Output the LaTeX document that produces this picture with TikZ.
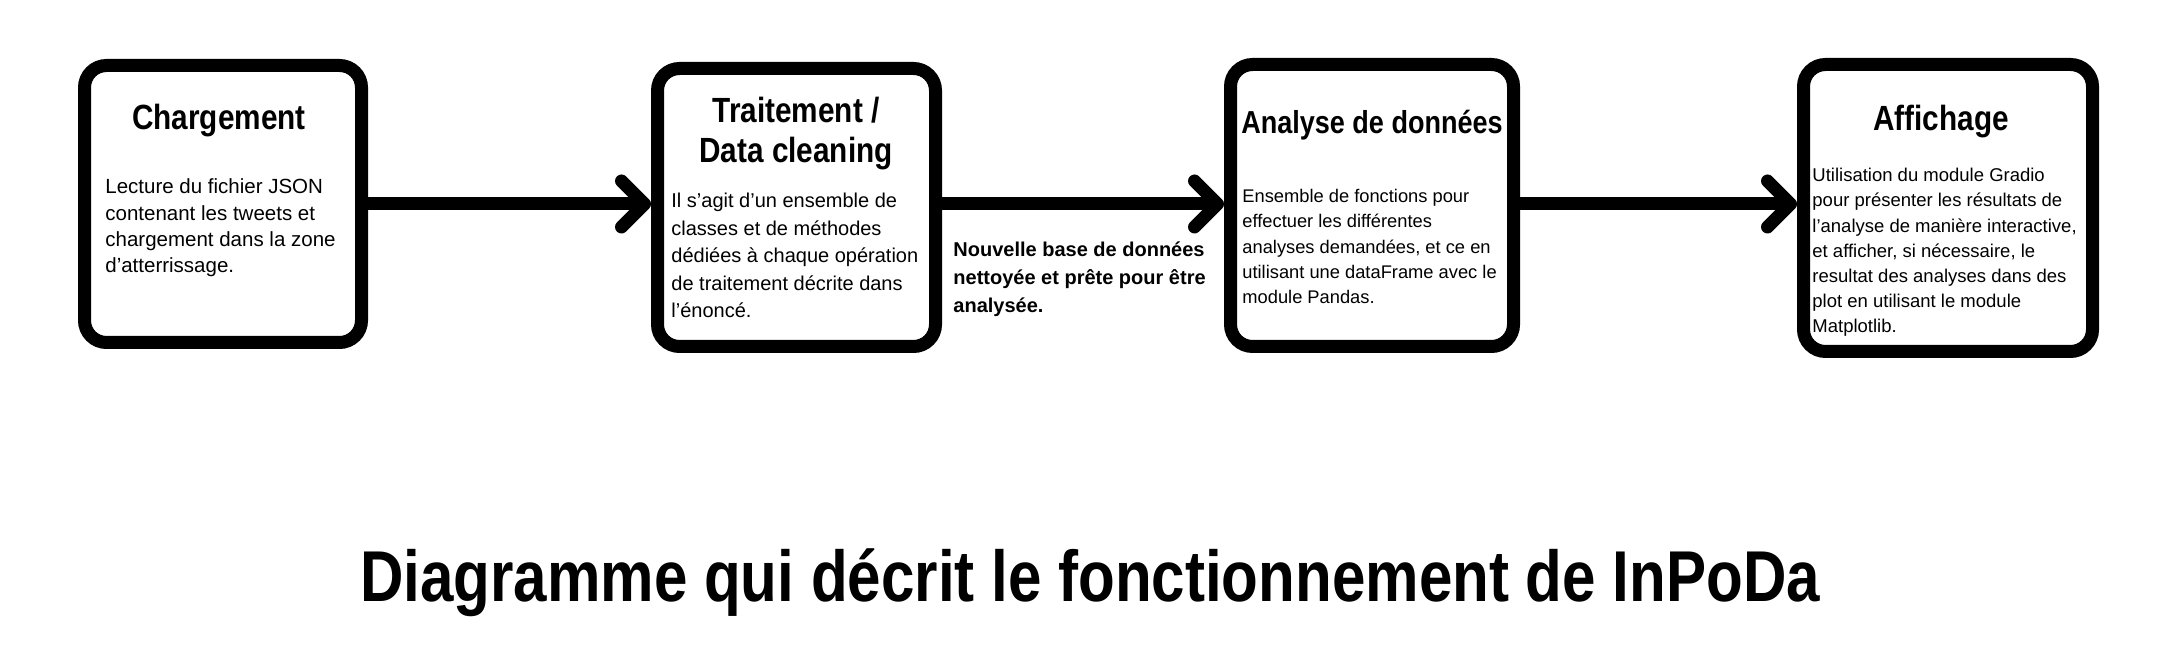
\documentclass[tikz,border=0pt]{standalone}
\usepackage{fontspec}
\setmainfont{Liberation Sans}
\newfontfamily\narrowsans{Liberation Sans}[FakeStretch=0.85]
\newfontfamily\titlesans{Liberation Sans}[FakeStretch=0.835]
\usetikzlibrary{arrows.meta}

\tikzset{
  stage/.style={draw=black, line width=6.5pt, rounded corners=11pt, fill=white, inner sep=0pt},
  heading/.style={font=\narrowsans\bfseries\fontsize{17.5}{20}\selectfont, align=center, inner sep=0pt, anchor=base},
  body/.style={align=left, inner sep=0pt, anchor=base west},
  flow/.style={line width=6.5pt, -{Straight Barb[length=11.5pt, width=23pt, round]}}
}

\begin{document}
\begin{tikzpicture}[x=0.5pt, y=-0.5pt]
\useasboundingbox (0,0) rectangle (2182,672);
\node[stage, minimum width=138.5pt, minimum height=138.5pt] (chg) at (223,204) {};
\node[stage, minimum width=139pt, minimum height=139pt] (trt) at (796.5,207.5) {};
\node[stage, minimum width=141.5pt, minimum height=141pt] (ana) at (1372,205.5) {};
\node[stage, minimum width=144.5pt, minimum height=143.5pt] (aff) at (1948,208) {};
\draw[flow] (chg.east) -- (chg.east -| trt.west);
\draw[flow] (trt.east |- chg.east) -- (ana.west |- chg.east);
\draw[flow] (ana.east |- chg.east) -- (aff.west |- chg.east);
% base = last line of each text
\node[heading] (chgT) at (219,130) {Chargement};
\node[body, font=\fontsize{10.25}{13.2}\selectfont] (chgB) at (105,273) {Lecture du fichier JSON\\contenant les tweets et\\chargement dans la zone\\d'atterrissage.};
\node[heading] (trtT) at (796,163) {Traitement /\\Data cleaning};
\node[body, font=\fontsize{10}{13.75}\selectfont] (trtB) at (671,318) {Il s'agit d'un ensemble de\\classes et de méthodes\\dédiées à chaque opération\\de traitement décrite dans\\l'énoncé.};
\node[body, font=\bfseries\fontsize{10}{14}\selectfont] (newdb) at (953,313) {Nouvelle base de données\\nettoyée et prête pour être\\analysée.};
\node[heading, font=\narrowsans\bfseries\fontsize{15.9}{19}\selectfont] (anaT) at (1372,134) {Analyse de données};
\node[body, font=\fontsize{9.15}{12.7}\selectfont] (anaB) at (1242,304) {Ensemble de fonctions pour\\effectuer les différentes\\analyses demandées, et ce en\\utilisant une dataFrame avec le\\module Pandas.};
\node[heading] (affT) at (1941,131) {Affichage};
\node[body, font=\fontsize{9.25}{12.6}\selectfont] (affB) at (1812,333) {Utilisation du module Gradio\\pour présenter les résultats de\\l'analyse de manière interactive,\\et afficher, si nécessaire, le\\resultat des analyses dans des\\plot en utilisant le module\\Matplotlib.};
\node[anchor=base, inner sep=0pt, font=\titlesans\bfseries\fontsize{36}{40}\selectfont] (title) at (1090,602) {Diagramme qui décrit le fonctionnement de InPoDa};
\end{tikzpicture}
\end{document}
